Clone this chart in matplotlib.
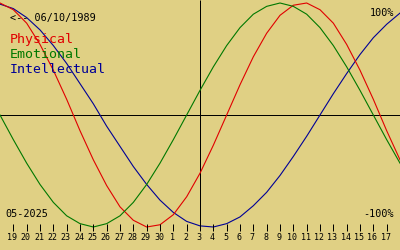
import matplotlib
matplotlib.use("Agg")
import matplotlib.pyplot as plt

# biorhythm values, one per day (18 Apr .. 18 May 2025)
day_index = list(range(-1, 30))
physical = [1.00, 0.94, 0.82, 0.63, 0.40, 0.14, -0.14, -0.40, -0.63, -0.82,
            -0.94, -1.00, -0.98, -0.89, -0.73, -0.52, -0.27, 0.00, 0.27, 0.52,
            0.73, 0.89, 0.98, 1.00, 0.94, 0.82, 0.63, 0.40, 0.14, -0.14, -0.40]
emotional = [0.00, -0.22, -0.43, -0.62, -0.78, -0.90, -0.97, -1.00, -0.97, -0.90,
             -0.78, -0.62, -0.43, -0.22, 0.00, 0.22, 0.43, 0.62, 0.78, 0.90,
             0.97, 1.00, 0.97, 0.90, 0.78, 0.62, 0.43, 0.22, 0.00, -0.22, -0.43]
intellectual = [0.99, 0.95, 0.87, 0.76, 0.62, 0.46, 0.28, 0.10, -0.10, -0.28,
                -0.46, -0.62, -0.76, -0.87, -0.95, -0.99, -1.00, -0.97, -0.91, -0.81,
                -0.69, -0.54, -0.37, -0.19, 0.00, 0.19, 0.37, 0.54, 0.69, 0.81, 0.91]
day_labels = ["19", "20", "21", "22", "23", "24", "25", "26", "27", "28", "29", "30",
              "1", "2", "3", "4", "5", "6", "7", "8", "9", "10", "11", "12", "13",
              "14", "15", "16", "17"]
today = 14

W, H = 400, 250
BG = "#e0d084"
RED, GREEN, BLUE = "#e00000", "#007800", "#000096"

fig = plt.figure(figsize=(W / 100, H / 100), dpi=100, facecolor=BG)
ax = fig.add_axes([0, 0, 1, 1])
ax.set_facecolor(BG)
ax.set_xlim(-1, 29)
ax.set_ylim(-135 / 112, 115 / 112)   # zero line at y=115px, amplitude 112px
ax.axis("off")

def px(x, y):
    # pixel position -> figure fraction
    return x / W, 1 - y / H

lw = 0.72   # one pixel
ax.axhline(0, color="black", lw=lw, snap=True)
ax.vlines(today, 1 - 230 / H, 1, color="black", lw=lw, snap=True,
          transform=ax.get_xaxis_transform())

ax.plot(day_index, intellectual, color=BLUE, lw=0.8)
ax.plot(day_index, physical, color=RED, lw=0.8)
ax.plot(day_index, emotional, color=GREEN, lw=0.8)

# day ticks and labels
ticks = list(range(len(day_labels)))
ax.vlines(ticks, 1 - 231 / H, 1 - 224 / H, color="black", lw=lw, snap=True,
          transform=ax.get_xaxis_transform())
for t, lab in zip(ticks, day_labels):
    x = (t + 1) * W / 30 - 1
    fig.text(*px(x, 240), lab, ha="center", va="baseline", fontsize=6,
             family="DejaVu Sans Mono", color="black")

mono = "DejaVu Sans Mono"
fig.text(*px(10, 21), "<-- 06/10/1989", fontsize=7.3, family=mono, va="baseline")
fig.text(*px(10, 43), "Physical", fontsize=9.5, family=mono, color=RED, va="baseline")
fig.text(*px(10, 58), "Emotional", fontsize=9.5, family=mono, color=GREEN, va="baseline")
fig.text(*px(10, 73), "Intellectual", fontsize=9.5, family=mono, color=BLUE, va="baseline")
fig.text(*px(5, 217), "05-2025", fontsize=7.3, family=mono, va="baseline")
fig.text(*px(394, 16), "100%", fontsize=7.3, family=mono, ha="right", va="baseline")
fig.text(*px(394, 217), "-100%", fontsize=7.3, family=mono, ha="right", va="baseline")

fig.savefig("out.png", dpi=100, facecolor=BG)
